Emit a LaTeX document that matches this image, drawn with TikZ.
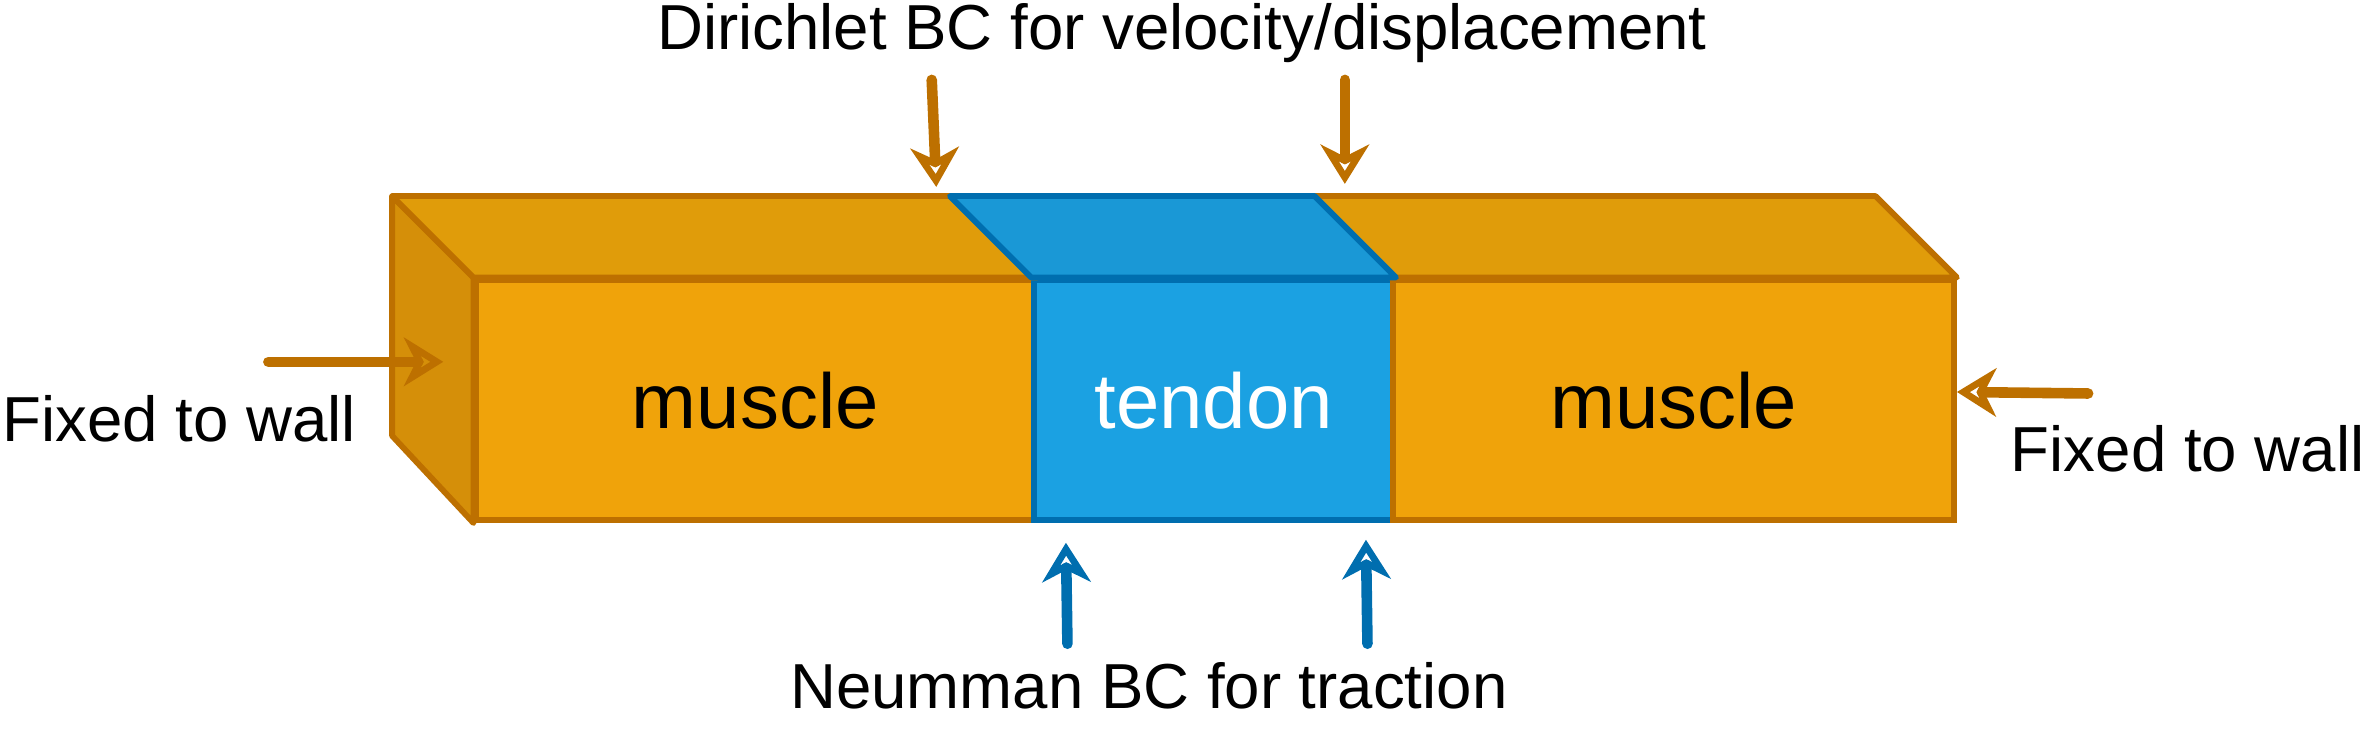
\documentclass[tikz,border=0pt]{standalone}
\usepackage{fontspec}
\setmainfont{Liberation Sans}
\usetikzlibrary{arrows.meta}
\definecolor{musclefill}{HTML}{F0A30A}
\definecolor{muscletop}{HTML}{E09C0A}
\definecolor{muscleside}{HTML}{D58F09}
\definecolor{muscleline}{HTML}{BD7000}
\definecolor{tendonfill}{HTML}{1BA1E2}
\definecolor{tendontop}{HTML}{1A98D6}
\definecolor{tendonline}{HTML}{006EAF}

\begin{document}
\begin{tikzpicture}[muscle/.style={rectangle, draw=muscleline, fill=musclefill, line width=1.1pt, minimum height=1.59cm, inner sep=0pt, font=\fontsize{14.7}{17}\selectfont},
        tendon/.style={muscle, draw=tendonline, fill=tendonfill, text=white},
        face/.style={draw=muscleline, line width=1.1pt, line join=round},
        lbl/.style={inner sep=0pt, font=\fontsize{12}{14}\selectfont},
        oarrow/.style={draw=muscleline, line width=2pt, line cap=round, line join=round, -{Stealth[open, length=0.26cm, width=0.32cm, inset=0.08cm]}},
        barrow/.style={oarrow, draw=tendonline}]
            \useasboundingbox (0,0) rectangle (15.68,4.86);
            \node[muscle, minimum width=3.70cm] (m1) at (5.01,2.205) {muscle};
            \node[tendon, minimum width=2.38cm] (t) at (8.05,2.205) {tendon};
            \node[muscle, minimum width=3.72cm] (m2) at (11.10,2.205) {muscle};

            \draw[face, fill=muscleside] (m1.north west) -- ++(-0.54,0.54) -- ++(0,-1.59) -- (m1.south west) -- cycle;
            \draw[face, fill=muscletop] (m1.north west) -- ++(-0.54,0.54) -- ([shift={(-0.54,0.54)}]m1.north east) -- (m1.north east) -- cycle;
            \draw[face, fill=muscletop] (m2.north west) -- ++(-0.54,0.54) -- ([shift={(-0.54,0.54)}]m2.north east) -- (m2.north east) -- cycle;
            \draw[face, draw=tendonline, fill=tendontop] (t.north west) -- ++(-0.54,0.54) -- ([shift={(-0.54,0.54)}]t.north east) -- (t.north east) -- cycle;

            \node[lbl] (dtext) at (7.84,4.64) {Dirichlet BC for velocity/displacement};
            \node[lbl] (lwall) at (1.19,2.08) {Fixed to wall};
            \node[lbl] (rwall) at (14.51,1.88) {Fixed to wall};
            \node[lbl] (ntext) at (7.62,0.31) {Neumman BC for traction};

            \coordinate (d1s) at (6.18,4.33); \coordinate (d1e) at (6.21,3.62);
            \coordinate (d2s) at (8.92,4.33); \coordinate (d2e) at (8.92,3.64);
            \coordinate (n1s) at (7.08,0.59); \coordinate (n1e) at (7.07,1.26);
            \coordinate (n2s) at (9.07,0.59); \coordinate (n2e) at (9.06,1.28);
            \coordinate (ls) at (1.78,2.46); \coordinate (le) at (2.94,2.46);
            \coordinate (rs) at (13.85,2.25); \coordinate (re) at (12.98,2.26);

            \draw[oarrow] (d1s) -- (d1e);
            \draw[oarrow] (d2s) -- (d2e);
            \draw[oarrow] (ls) -- (le);
            \draw[oarrow] (rs) -- (re);
            \draw[barrow] (n1s) -- (n1e);
            \draw[barrow] (n2s) -- (n2e);
        \end{tikzpicture}
\end{document}
